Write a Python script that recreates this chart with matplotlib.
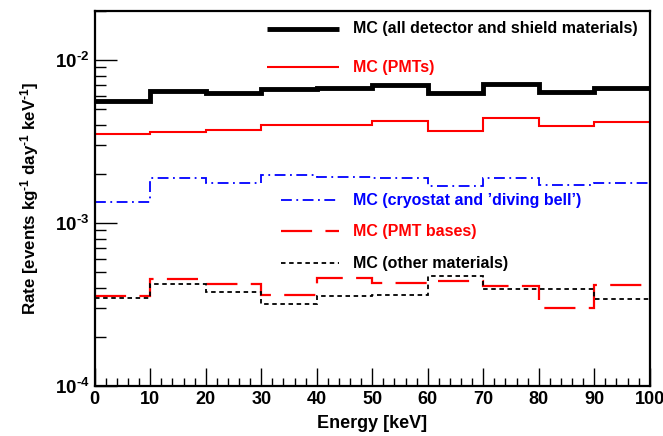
import numpy as np
import matplotlib
matplotlib.use("Agg")
import matplotlib.pyplot as plt
from matplotlib.ticker import FixedLocator, FixedFormatter, NullFormatter

plt.rcParams['font.family'] = ['Liberation Sans', 'DejaVu Sans']
plt.rcParams['font.weight'] = 'bold'
plt.rcParams['mathtext.fontset'] = 'custom'
plt.rcParams['mathtext.rm'] = 'Liberation Sans:bold'
plt.rcParams['mathtext.bf'] = 'Liberation Sans:bold'
plt.rcParams['mathtext.default'] = 'bf'

# bin edges (keV)
edges = [0, 10, 20, 30, 40, 50, 60, 70, 80, 90, 100]

# rates per bin [events / kg / day / keV]
rate_all = [0.0056, 0.00646, 0.0063, 0.00664, 0.00676, 0.00703, 0.0063, 0.0071, 0.0064, 0.0067]
rate_pmts = [0.0035, 0.0036, 0.0037, 0.00397, 0.0040, 0.00424, 0.00365, 0.00439, 0.00395, 0.00418]
rate_cryo = [0.00135, 0.00188, 0.00175, 0.00197, 0.00192, 0.00188, 0.00169, 0.00188, 0.00171, 0.00175]
rate_bases = [0.000356, 0.000455, 0.00042, 0.000361, 0.000458, 0.000430, 0.00044, 0.00041, 0.00030, 0.000417]
rate_other = [0.000345, 0.000422, 0.000376, 0.000318, 0.000358, 0.000361, 0.000473, 0.000395, 0.000395, 0.000342]

labels = ["MC (all detector and shield materials)", "MC (PMTs)",
          "MC (cryostat and \u2019diving bell\u2019)", "MC (PMT bases)", "MC (other materials)"]
colors = ["black", "#ff0000", "#0000ff", "#ff0000", "black"]

x_ticks = [0, 10, 20, 30, 40, 50, 60, 70, 80, 90, 100]
y_ticks = [1e-4, 1e-3, 1e-2]
y_tick_labels = [r"$10^{\text{-}4}$", r"$10^{\text{-}3}$", r"$10^{\text{-}2}$"]

fig = plt.figure(figsize=(6.63, 4.36), dpi=100)
ax = fig.add_axes([0.143, 0.115, 0.837, 0.860])

styles = [
    dict(lw=3.5, ls="-"),
    dict(lw=1.5, ls="-"),
    dict(lw=1.3, ls=(0, (6, 2.5, 1, 2.5))),
    dict(lw=1.6, ls=(0, (14, 6))),
    dict(lw=1.3, ls=(0, (2.5, 2))),
]
series = [rate_all, rate_pmts, rate_cryo, rate_bases, rate_other]

for vals, col, st in zip(series, colors, styles):
    ax.stairs(vals, edges, color=col, linewidth=st["lw"], linestyle=st["ls"],
              baseline=None)

ax.set_yscale("log")
ax.set_xlim(0, 100)
ax.set_ylim(1e-4, 2e-2)

ax.xaxis.set_major_locator(FixedLocator(x_ticks))
ax.xaxis.set_minor_locator(FixedLocator(np.arange(0, 101, 2)))
ax.set_xticklabels([str(t) for t in x_ticks])
ax.yaxis.set_major_locator(FixedLocator(y_ticks))
ax.yaxis.set_major_formatter(FixedFormatter(y_tick_labels))
minor_y = [m * 10.0 ** e for e in (-4, -3, -2) for m in range(2, 10)]
ax.yaxis.set_minor_locator(FixedLocator(minor_y))
ax.yaxis.set_minor_formatter(NullFormatter())

ax.tick_params(which="both", direction="in", top=False, right=False, width=1.0)
ax.tick_params(axis="x", which="major", length=13, labelsize=13, pad=4)
ax.tick_params(axis="x", which="minor", length=6)
ax.tick_params(axis="y", which="major", length=16, labelsize=13.5, pad=4)
ax.tick_params(axis="y", which="minor", length=8)
for lab in ax.get_xticklabels() + ax.get_yticklabels():
    lab.set_fontweight("bold")
for sp in ax.spines.values():
    sp.set_linewidth(1.6)

ax.set_xlabel("Energy [keV]", fontsize=13, fontweight="bold", labelpad=5)
ax.set_ylabel(r"Rate [events kg$^{\text{-}1}$ day$^{\text{-}1}$ keV$^{\text{-}1}$]",
              fontsize=12.2, fontweight="bold", labelpad=10)

# hand-placed legend entries (ROOT style)
leg_y = [0.952, 0.850, 0.495, 0.412, 0.327]
leg_x0 = [0.310, 0.310, 0.336, 0.336, 0.336]
for lab, col, st, yy, x0 in zip(labels, colors, styles, leg_y, leg_x0):
    ax.plot([x0, 0.440], [yy, yy], transform=ax.transAxes, color=col,
            linewidth=st["lw"], linestyle=st["ls"], solid_capstyle="butt")
    ax.text(0.466, yy, lab, transform=ax.transAxes, color=col, fontsize=11.5,
            fontweight="bold", va="center", ha="left")

fig.savefig("out.png", dpi=100)
